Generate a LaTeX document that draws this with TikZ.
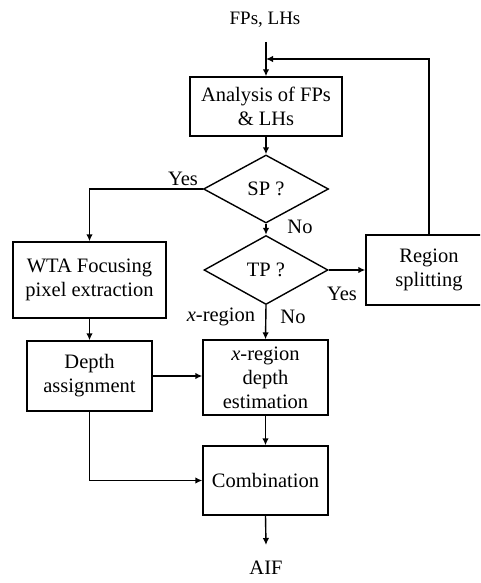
\documentclass[tikz,border=0pt]{standalone}
\usepackage{fontspec}
\setmainfont{Liberation Serif}
\usetikzlibrary{shapes.geometric,arrows.meta}
\begin{document}
\begin{tikzpicture}[x=1pt,y=-1pt,
  every node/.style={font=\fontsize{20.5}{24}\selectfont},
  box/.style={draw,line width=1.4pt,rectangle,align=center,inner sep=0pt},
  dia/.style={draw,line width=1.4pt,diamond,inner sep=0pt},
  lbl/.style={inner sep=0pt},
  arr/.style={line width=1.4pt,-{Latex[length=7pt,width=6.5pt]}},
  ln/.style={line width=1.4pt}]
\useasboundingbox (0,0) rectangle (480,583);
\clip (0,0) rectangle (480,583);
% nodes
\node[lbl,font=\fontsize{19}{22}\selectfont] (inlab) at (265,20) {FPs, LHs};
\coordinate (s0) at (266,42);
\coordinate (fb) at (266,59);
\node[box,minimum width=152pt,minimum height=59pt] (ana) at (266,106.5) {Analysis of FPs\\\& LHs};
\node[dia,minimum width=125pt,minimum height=68pt] (sp) at (266,189) {SP ?};
\node[dia,minimum width=124pt,minimum height=69pt] (tp) at (266,270) {TP ?};
\node[box,minimum width=153pt,minimum height=76pt] (wta) at (89.5,280) {WTA Focusing\\pixel extraction};
\node[box,minimum width=126pt,minimum height=70pt] (reg) at (429,270) {Region\\splitting};
\node[box,minimum width=125pt,minimum height=70pt] (dep) at (89.5,376) {Depth\\assignment};
\node[box,minimum width=125pt,minimum height=75pt] (xr) at (265.5,377.5) {\textit{x}-region\\depth\\estimation};
\node[box,minimum width=125pt,minimum height=69pt] (comb) at (265.5,480.5) {Combination};
\coordinate (e0) at (266,545);
\node[lbl] (aif) at (266,568) {AIF};
% labels
\node[lbl] (yes1) at (183,179) {Yes};
\node[lbl] (no1) at (300,227) {No};
\node[lbl] (yes2) at (342,294) {Yes};
\node[lbl] (xlab) at (221,317) {\textit{x}-region};
\node[lbl] (no2) at (293,317) {No};
% connectors
\draw[arr] (s0) -- (ana.north);
\draw[arr] (reg.north) |- (fb);
\draw[arr] (ana.south) -- (sp.north);
\draw[arr] (sp.west) -| (wta.north);
\draw[arr] (sp.south) -- (tp.north);
\draw[arr] (tp.east) -- (reg.west);
\draw[arr] (tp.south) -- (xr.north);
\draw[arr] (wta.south) -- (dep.north);
\draw[arr] (dep.east) -- (dep.east -| xr.west);
\draw[arr] (xr.south) -- (comb.north);
\draw[arr] (dep.south) |- (comb.west);
\draw[arr] (comb.south) -- (e0);
\end{tikzpicture}
\end{document}
